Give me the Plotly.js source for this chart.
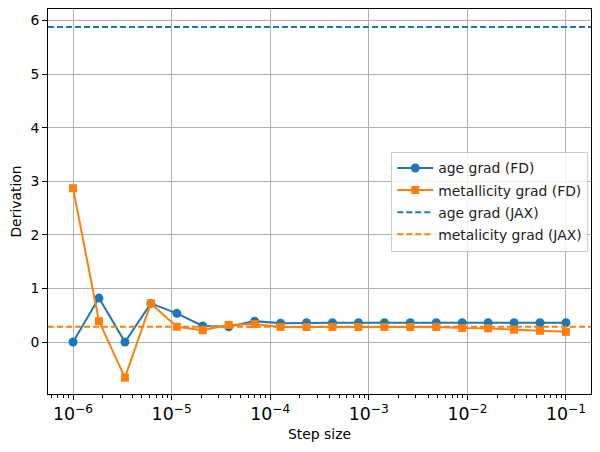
<!DOCTYPE html>
<html><head><meta charset="utf-8">
<script src="https://cdn.plot.ly/plotly-3.0.1.min.js"></script>
<style>body{margin:0;padding:0;}#chart{width:600px;height:452px;}</style>
</head><body><div id="chart"></div>
<script>
const stepSizes = [1e-6,1.8330e-6,3.3598e-6,6.1585e-6,1.1288e-5,2.0691e-5,3.7927e-5,6.9519e-5,1.2743e-4,2.3357e-4,4.2813e-4,7.8476e-4,1.4384e-3,2.6367e-3,4.8329e-3,8.8587e-3,1.6238e-2,2.9764e-2,5.4556e-2,1e-1];
const ageGradFD = [0.0,0.82,0.0,0.72,0.535,0.30,0.285,0.39,0.35,0.36,0.36,0.36,0.36,0.36,0.36,0.36,0.36,0.36,0.36,0.36];
const metGradFD = [2.87,0.39,-0.665,0.72,0.285,0.22,0.32,0.335,0.28,0.28,0.28,0.28,0.28,0.28,0.28,0.26,0.255,0.23,0.21,0.19];
const ageGradJAX = 5.88;
const metGradJAX = 0.285;
const xRangeLog = [-6.254,-0.746];
const blue = '#1f77b4', orange = '#ff7f0e';
const traces = [
  {x: stepSizes, y: ageGradFD, mode:'lines+markers', name:'age grad (FD)', legendgroup:'a',
   line:{color:blue,width:2}, marker:{symbol:'circle',size:9,color:blue}},
  {x: stepSizes, y: metGradFD, mode:'lines+markers', name:'metallicity grad (FD)', legendgroup:'b',
   line:{color:orange,width:2}, marker:{symbol:'square',size:8,color:orange}},
  {x: [Math.pow(10,xRangeLog[0]), Math.pow(10,xRangeLog[1])], y:[ageGradJAX,ageGradJAX], mode:'lines', name:'age grad (JAX)', legendgroup:'c',
   line:{color:blue,width:2,dash:'6px,3px'}},
  {x: [Math.pow(10,xRangeLog[0]), Math.pow(10,xRangeLog[1])], y:[metGradJAX,metGradJAX], mode:'lines', name:'metalicity grad (JAX)', legendgroup:'d',
   line:{color:orange,width:2,dash:'6px,3px'}}
];
const fs = 13.9;
const layout = {
  width:600, height:452,
  margin:{l:48,r:9,t:9,b:58},
  paper_bgcolor:'#fff', plot_bgcolor:'#fff',
  font: {family:'DejaVu Sans', size:fs, color:'#000'},
  showlegend:true,
  legend:{x:0.995,xanchor:'right',y:0.5,yanchor:'middle',bgcolor:'rgba(255,255,255,0.8)',
          bordercolor:'#cccccc',borderwidth:1,font:{family:'DejaVu Sans',size:fs,color:'#222'},
          tracegroupgap:1, itemwidth:36},
  xaxis:{type:'log', range:xRangeLog, dtick:1, exponentformat:'power',
         showgrid:true, gridcolor:'#b0b0b0', gridwidth:1, zeroline:false,
         showline:true, linecolor:'#000', linewidth:1, mirror:true,
         ticks:'outside', ticklen:5, tickcolor:'#000',
         minor:{ticks:'outside', ticklen:2.5, tickcolor:'#000', dtick:'D1', showgrid:false},
         tickfont:{family:'DejaVu Sans',size:fs},
         title:{text:'Step size', font:{family:'DejaVu Sans',size:fs}, standoff:6}},
  yaxis:{range:[-0.97,6.215], dtick:1, showgrid:true, gridcolor:'#b0b0b0', gridwidth:1, zeroline:false,
         showline:true, linecolor:'#000', linewidth:1, mirror:true,
         ticks:'outside', ticklen:5, tickcolor:'#000',
         tickfont:{family:'DejaVu Sans',size:fs},
         title:{text:'Derivation', font:{family:'DejaVu Sans',size:fs}, standoff:5}}
};
Plotly.newPlot('chart', traces, layout, {displayModeBar:false, staticPlot:true});
</script></body></html>
